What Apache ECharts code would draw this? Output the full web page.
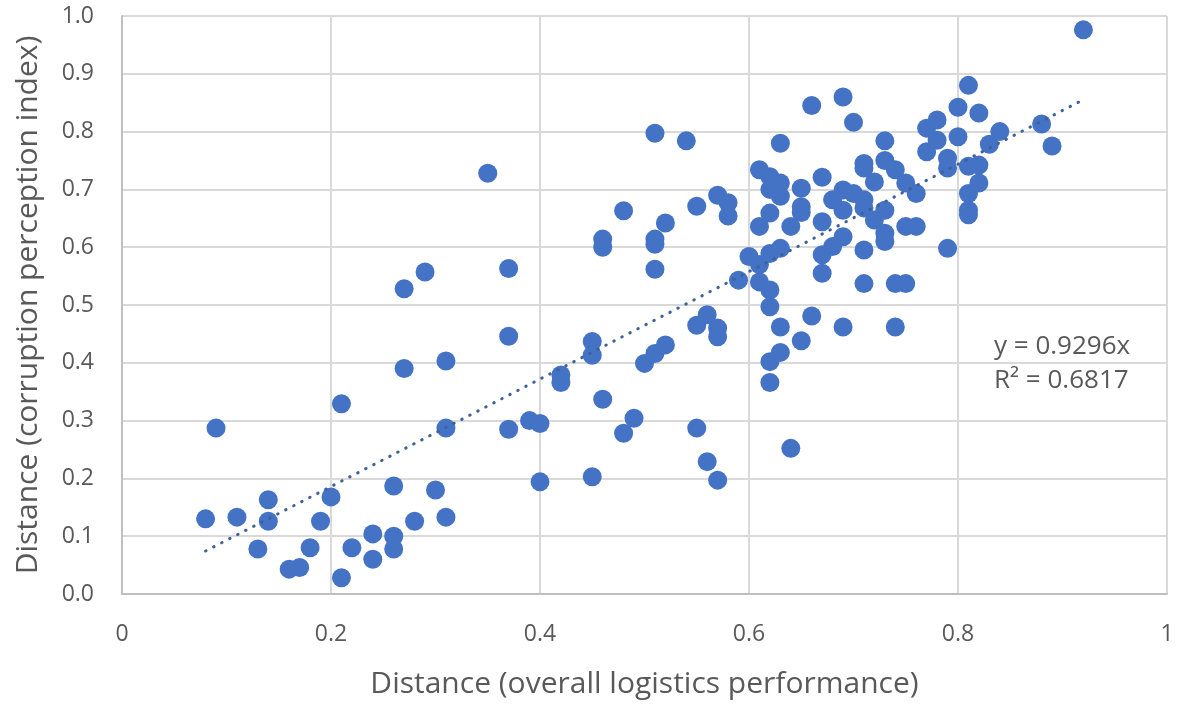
<!DOCTYPE html>
<html>
<head>
<meta charset="utf-8">
<title>Distance scatter</title>
<script src="https://cdn.jsdelivr.net/npm/echarts@6/dist/echarts.min.js"></script>
<style>
  html, body { margin: 0; padding: 0; background: #fff; }
  #chart { width: 1181px; height: 711px; }
</style>
</head>
<body>
<div id="chart"></div>
<script>
// logistics performance distance (x) and corruption perception distance (y)
const xValues = [
  0.08, 0.09, 0.11, 0.13, 0.14, 0.14, 0.16, 0.17, 0.18, 0.19,
  0.20, 0.21, 0.21, 0.22, 0.24, 0.24, 0.26, 0.26, 0.26, 0.27,
  0.27, 0.28, 0.29, 0.30, 0.31, 0.31, 0.31, 0.35, 0.37, 0.37,
  0.37, 0.39, 0.40, 0.40, 0.42, 0.42, 0.45, 0.45, 0.45, 0.46,
  0.46, 0.46, 0.48, 0.48, 0.49, 0.50, 0.51, 0.52, 0.51, 0.51,
  0.51, 0.51, 0.52, 0.54, 0.55, 0.55, 0.55, 0.56, 0.56, 0.57,
  0.57, 0.57, 0.57, 0.58, 0.58, 0.59, 0.60, 0.61, 0.61, 0.61,
  0.61, 0.62, 0.62, 0.62, 0.62, 0.62, 0.62, 0.62, 0.62, 0.63,
  0.63, 0.63, 0.63, 0.63, 0.63, 0.64, 0.64, 0.65, 0.65, 0.65,
  0.65, 0.66, 0.66, 0.67, 0.67, 0.67, 0.67, 0.68, 0.68, 0.69,
  0.69, 0.69, 0.69, 0.69, 0.70, 0.70, 0.71, 0.71, 0.71, 0.71,
  0.71, 0.71, 0.72, 0.72, 0.73, 0.73, 0.73, 0.73, 0.73, 0.74,
  0.74, 0.74, 0.75, 0.75, 0.75, 0.76, 0.76, 0.77, 0.77, 0.78,
  0.78, 0.79, 0.79, 0.79, 0.80, 0.80, 0.81, 0.81, 0.81, 0.81,
  0.81, 0.82, 0.82, 0.82, 0.83, 0.84, 0.88, 0.89, 0.92
]
const yValues = [
  0.130, 0.287, 0.133, 0.078, 0.163, 0.126, 0.043, 0.046, 0.080, 0.126,
  0.168, 0.329, 0.028, 0.080, 0.104, 0.060, 0.187, 0.100, 0.078, 0.528,
  0.390, 0.126, 0.557, 0.180, 0.403, 0.287, 0.133, 0.728, 0.563, 0.446,
  0.285, 0.300, 0.295, 0.194, 0.379, 0.366, 0.437, 0.413, 0.203, 0.337,
  0.614, 0.600, 0.663, 0.278, 0.304, 0.399, 0.416, 0.431, 0.797, 0.614,
  0.605, 0.562, 0.642, 0.784, 0.671, 0.465, 0.287, 0.483, 0.229, 0.690,
  0.460, 0.445, 0.197, 0.677, 0.654, 0.543, 0.584, 0.734, 0.636, 0.570,
  0.540, 0.722, 0.700, 0.659, 0.589, 0.526, 0.497, 0.402, 0.366, 0.780,
  0.711, 0.688, 0.598, 0.462, 0.418, 0.636, 0.252, 0.702, 0.670, 0.660,
  0.438, 0.845, 0.481, 0.721, 0.644, 0.587, 0.555, 0.682, 0.601, 0.860,
  0.699, 0.664, 0.618, 0.462, 0.816, 0.693, 0.745, 0.737, 0.682, 0.668,
  0.595, 0.537, 0.713, 0.647, 0.784, 0.750, 0.664, 0.624, 0.610, 0.734,
  0.537, 0.462, 0.711, 0.636, 0.537, 0.693, 0.636, 0.806, 0.765, 0.820,
  0.785, 0.754, 0.737, 0.598, 0.842, 0.791, 0.880, 0.740, 0.693, 0.664,
  0.656, 0.832, 0.742, 0.711, 0.778, 0.800, 0.813, 0.775, 0.976
]

// linear trendline through origin, ends
const trendX = [0.08, 0.92]
const trendY = [0.0744, 0.8552]
const trendLabel = ['y = 0.9296x', 'R² = 0.6817']

const xTicks = [0, 0.2, 0.4, 0.6, 0.8, 1]

const chart = echarts.init(document.getElementById('chart'))
const grey = '#595959'
const font = '"Open Sans", sans-serif'

const option = {
  animation: false,
  grid: { left: 122, right: 14, top: 16, bottom: 117 },
  xAxis: {
    type: 'value',
    min: 0,
    max: 1,
    interval: 0.2,
    name: 'Distance (overall logistics performance)',
    nameLocation: 'middle',
    nameGap: 75,
    nameTextStyle: { color: grey, fontSize: 30, fontFamily: font },
    axisLine: { show: true, lineStyle: { color: '#bfbfbf', width: 2 } },
    axisTick: { show: false },
    axisLabel: {
      color: grey, fontSize: 23, fontFamily: font, margin: 29,
      formatter: v => xTicks.includes(+v.toFixed(1)) ? String(+v.toFixed(1)) : ''
    },
    splitLine: { lineStyle: { color: '#d9d9d9', width: 2 } }
  },
  yAxis: {
    type: 'value',
    min: 0,
    max: 1,
    interval: 0.1,
    name: 'Distance (corruption perception index)',
    nameLocation: 'middle',
    nameGap: 79,
    nameTextStyle: { color: grey, fontSize: 30, fontFamily: font },
    axisLine: { show: true, lineStyle: { color: '#bfbfbf', width: 2 } },
    axisTick: { show: false },
    axisLabel: {
      color: grey, fontSize: 23, fontFamily: font, margin: 28,
      formatter: v => v.toFixed(1)
    },
    splitLine: { lineStyle: { color: '#d9d9d9', width: 2 } }
  },
  graphic: [
    {
      type: 'text', left: 994, top: 334, z: 10,
      style: { text: trendLabel[0], fill: grey, fontSize: 26, fontFamily: font }
    },
    {
      type: 'text', left: 994, top: 368, z: 10,
      style: { text: trendLabel[1], fill: grey, fontSize: 26, fontFamily: font }
    }
  ],
  series: [
    {
      type: 'scatter',
      symbolSize: 19,
      itemStyle: { color: '#4472C4', opacity: 1 },
      data: xValues.map((x, i) => [x, yValues[i]]),
      z: 2
    },
    {
      type: 'line',
      data: trendX.map((x, i) => [x, trendY[i]]),
      showSymbol: false,
      symbol: 'none',
      lineStyle: { color: '#3d6299', width: 3, type: [0.5, 8.5], cap: 'round' },
      z: 3
    }
  ]
}

chart.setOption(option)
</script>
</body>
</html>
